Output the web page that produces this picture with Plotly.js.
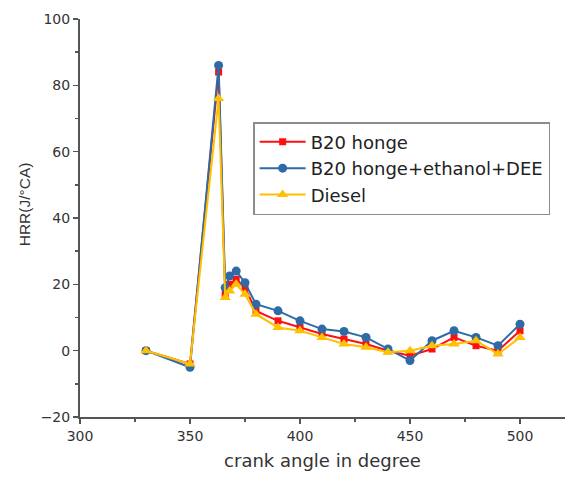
<!DOCTYPE html>
<html>
<head>
<meta charset="utf-8">
<script src="https://cdn.plot.ly/plotly-3.0.1.min.js"></script>
<style>html,body{margin:0;padding:0;background:#fff;}#chart{width:565px;height:482px;}</style>
</head>
<body>
<div id="chart"></div>
<script>
const crankAngle = [330, 350, 363, 366, 368, 371, 375, 380, 390, 400, 410, 420, 430, 440, 450, 460, 470, 480, 490, 500];
const hrrB20 = [0, -4, 84, 17, 20, 21.5, 19, 12, 9, 7, 5, 3.5, 2, 0, -1.5, 0.5, 4, 1.5, 0, 6];
const hrrB20Blend = [0, -5, 86, 19, 22.5, 24, 20.5, 14, 12, 9, 6.5, 5.8, 4, 0.5, -3, 3, 6, 4, 1.5, 8];
const hrrDiesel = [0, -4, 76, 16, 18, 20, 17, 11, 7, 6, 4, 2, 1, -0.5, 0, 1.5, 2, 3, -1, 4];
const seriesNames = ["B20 honge", "B20 honge+ethanol+DEE", "Diesel"];
const xTitle = "crank angle in degree";
const yTitle = "HRR(J/°CA)";

const font = "DejaVu Sans, Liberation Sans, sans-serif";
const fontNarrow = "Liberation Sans, Arial, sans-serif";
const traces = [
  {x: crankAngle, y: hrrB20, name: seriesNames[0], mode: "lines+markers",
   line: {color: "#ff1010", width: 2}, marker: {symbol: "square", size: 7, color: "#ff1010"}},
  {x: crankAngle, y: hrrB20Blend, name: seriesNames[1], mode: "lines+markers",
   line: {color: "#2e6aa6", width: 2}, marker: {symbol: "circle", size: 9, color: "#2e6aa6"}},
  {x: crankAngle, y: hrrDiesel, name: seriesNames[2], mode: "lines+markers",
   line: {color: "#ffc000", width: 2}, marker: {symbol: "triangle-up", size: 10, color: "#ffc000"}}
];

const layout = {
  width: 565, height: 482,
  margin: {l: 80, r: 0, t: 19, b: 65},
  paper_bgcolor: "#fff", plot_bgcolor: "#fff",
  font: {family: font, size: 14, color: "#333"},
  showlegend: true,
  legend: {x: 0.357, y: 0.741, xanchor: "left", yanchor: "top", itemwidth: 46,
    bordercolor: "#8c8c8c", borderwidth: 1.5, bgcolor: "#fff", traceorder: "normal",
    font: {family: font, size: 18, color: "#222"}},
  xaxis: {range: [300, 520.45], showgrid: false, zeroline: false,
    showline: true, linecolor: "#555", linewidth: 2,
    ticks: "outside", ticklen: 5, tickwidth: 1.5, tickcolor: "#555",
    tickvals: [300, 350, 400, 450, 500],
    minor: {tickvals: [325, 375, 425, 475], ticks: "outside", ticklen: 3, tickwidth: 1.5, tickcolor: "#555"},
    tickfont: {family: font, size: 14, color: "#333"},
    title: {text: xTitle, font: {family: font, size: 18, color: "#333"}, standoff: 12}},
  yaxis: {range: [-20, 100], showgrid: false, zeroline: false,
    showline: true, linecolor: "#555", linewidth: 2,
    ticks: "outside", ticklen: 5, tickwidth: 1.5, tickcolor: "#555",
    tickvals: [-20, 0, 20, 40, 60, 80, 100],
    minor: {tickvals: [-10, 10, 30, 50, 70, 90], ticks: "outside", ticklen: 3, tickwidth: 1.5, tickcolor: "#555"},
    tickfont: {family: font, size: 14, color: "#333"}},
  annotations: [{text: yTitle, textangle: -90, xref: "paper", yref: "paper",
    x: -0.115, y: 0.535, xanchor: "center", yanchor: "middle", showarrow: false,
    font: {family: fontNarrow, size: 15.5, color: "#333"}}]
};

Plotly.newPlot("chart", traces, layout, {displayModeBar: false, staticPlot: true});
</script>
</body>
</html>
